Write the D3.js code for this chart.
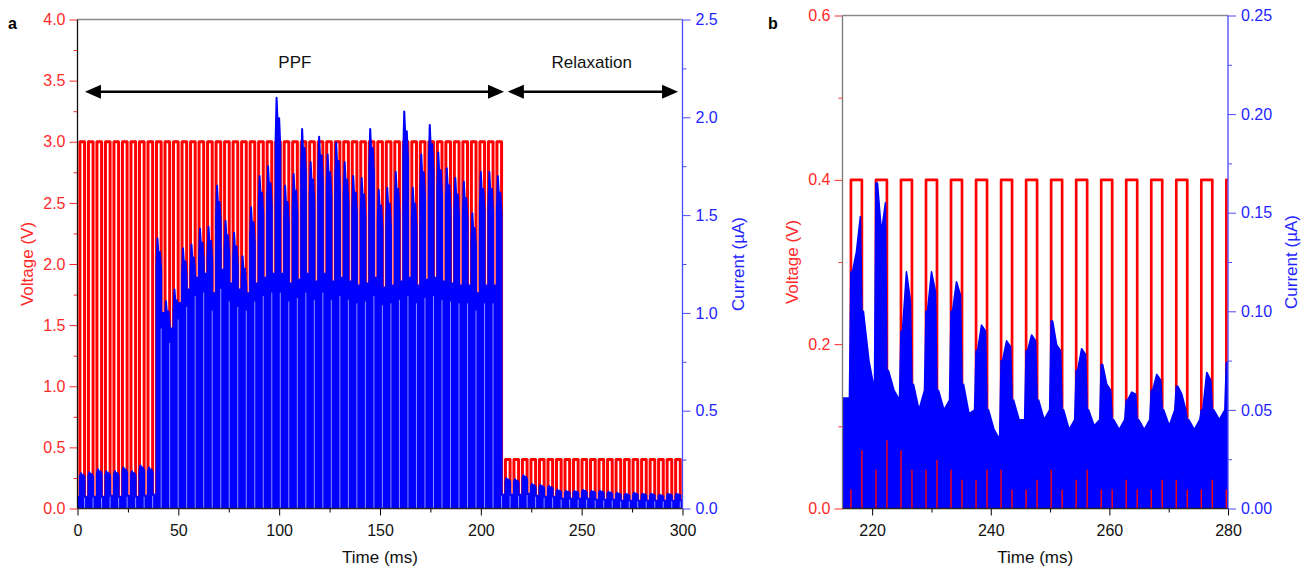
<!DOCTYPE html>
<html>
<head>
<meta charset="utf-8">
<title>PPF and relaxation</title>
<script src="https://cdn.jsdelivr.net/npm/d3@7"></script>
<style>
  body { margin: 0; background: #fff; }
  svg text { font-family: "Liberation Sans", Arial, sans-serif; }
</style>
</head>
<body>
<svg id="chart" width="1312" height="572"></svg>
<script>
// ---- pulse protocol (ms, V)
const pulseStart = 1.2;
const pulsePeriod = 4.22;
const pulseWidthA = 2.3;
const pulseWidthB = 1.85;
const ppfCount = 50;
const relaxCount = 21;
const ppfVoltage = 3.0;
const relaxVoltage = 0.4;

// ---- panel a: current per pulse (uA)
const peakA = [
  0.18, 0.185, 0.2, 0.19, 0.19, 0.21, 0.19, 0.22, 0.21,
  1.38, 1.06, 1.12, 1.33, 1.35, 1.43, 1.44, 1.65, 1.47, 1.41, 1.29,
  1.54, 1.70, 1.75, 2.10, 1.65, 1.71, 1.94, 1.77, 1.90, 1.81,
  1.87, 1.77, 1.70, 1.69, 1.94, 1.63, 1.64, 1.72, 2.03, 1.64,
  1.81, 1.96, 1.82, 1.74, 1.69, 1.67, 1.51, 1.72, 1.72, 1.70,
  0.155, 0.15, 0.17, 0.125, 0.12, 0.115, 0.095, 0.09, 0.09, 0.095,
  0.09, 0.09, 0.085, 0.08, 0.075, 0.08, 0.075, 0.075, 0.07, 0.075, 0.075
];
// level between pulses (after each pulse)
const offA = [
  0.06, 0.06, 0.06, 0.065, 0.06, 0.065, 0.06, 0.065, 0.07,
  1.0, 0.92, 1.05, 1.12, 1.18, 1.2, 1.1, 1.22, 1.15, 1.12, 1.1,
  1.15, 1.18, 1.2, 1.2, 1.15, 1.17, 1.2, 1.16, 1.2, 1.16,
  1.18, 1.16, 1.14, 1.15, 1.18, 1.13, 1.14, 1.16, 1.18, 1.14,
  1.17, 1.18, 1.16, 1.15, 1.14, 1.14, 1.1, 1.14, 1.14, 0.07,
  0.07, 0.07, 0.075, 0.065, 0.06, 0.06, 0.05, 0.05, 0.05, 0.05,
  0.045, 0.045, 0.045, 0.04, 0.04, 0.04, 0.04, 0.04, 0.04, 0.04, 0.04
];
const leadA = 0.06;
// shape of one pulse response: [fraction of pulse width, fraction of peak]
const shapeA = [[0, 0.9], [0.2, 1], [0.45, 0.93], [0.75, 0.95], [1, 0.88]];

// ---- panel b: relaxation detail, pulses 51..66 (uA)
const firstPulseB = 51;
const leadB = 0.056;
const onTopB = [
  [0.12, 0.13, 0.148], [0.165, 0.14, 0.155], [0.09, 0.12, 0.105], [0.10, 0.12, 0.11],
  [0.10, 0.115, 0.108], [0.08, 0.093, 0.09], [0.075, 0.085, 0.082], [0.08, 0.088, 0.085],
  [0.095, 0.083, 0.08], [0.07, 0.081, 0.078], [0.073, 0.063, 0.06], [0.055, 0.059, 0.058],
  [0.06, 0.068, 0.065], [0.062, 0.058, 0.05], [0.05, 0.069, 0.065], [0.074, 0.074, 0.074]
];
const offTopB = [
  [0.10, 0.075, 0.06], [0.07, 0.06, 0.055], [0.063, 0.05, 0.06], [0.06, 0.05, 0.055],
  [0.063, 0.048, 0.05], [0.05, 0.04, 0.035], [0.055, 0.045, 0.045], [0.055, 0.045, 0.05],
  [0.05, 0.04, 0.045], [0.05, 0.042, 0.045], [0.045, 0.04, 0.045], [0.045, 0.04, 0.045],
  [0.05, 0.042, 0.05], [0.045, 0.04, 0.045], [0.05, 0.045, 0.05], [0.074, 0.074, 0.074]
];
// white gaps at the bottom of the trace at each switching edge (uA)
const riseGapB = [0.01, 0.02, 0.03, 0.02, 0.02, 0.015, 0.02, 0.01, 0.02, 0.015, 0.01, 0.015, 0.01, 0.015, 0.01, 0.01];
const fallGapB = [0.03, 0.035, 0.02, 0.025, 0.015, 0.02, 0.01, 0.015, 0.01, 0.02, 0.01, 0.01, 0.015, 0.01, 0.015, 0.01];

// ---- tick values
const ticksVA = d3.range(0, 4.01, 0.5);
const ticksIA = d3.range(0, 2.51, 0.5);
const ticksTA = d3.range(0, 301, 50);
const ticksVB = [0, 0.2, 0.4, 0.6];
const ticksIB = [0, 0.05, 0.1, 0.15, 0.2, 0.25];
const ticksTB = [220, 240, 260, 280];

const RED = "#ff0000", BLUE = "#0000ff";
const AXRED = "#ff2a2a", AXBLUE = "#4a4aff", TXBLUE = "#2424ff";
const svg = d3.select("#chart");

const onset = k => pulseStart + k * pulsePeriod;
const level = k => k < ppfCount ? ppfVoltage : relaxVoltage;

function voltagePoints(t0, t1, width) {
  const pts = [[t0, 0]];
  for (let k = 0; k < ppfCount + relaxCount; k++) {
    const s = onset(k), e = s + width;
    if (e < t0 || s > t1 + 5) continue;
    pts.push([s, 0], [s, level(k)], [e, level(k)], [e, 0]);
  }
  pts.push([t1 + 5, 0]);
  return pts;
}

function axes(g, o) {
  const [x0, x1] = o.x.range(), [y0, y1] = o.yl.range();
  const font = s => s.style("font-size", "16px");
  // minor ticks
  g.append("g").attr("transform", `translate(0,${y0})`)
    .call(d3.axisBottom(o.x).tickValues(o.txMinor).tickSize(4).tickFormat(""))
    .call(s => { s.select(".domain").remove(); s.selectAll("line").attr("stroke", "#000"); });
  g.append("g").attr("transform", `translate(${x0},0)`)
    .call(d3.axisLeft(o.yl).tickValues(o.tylMinor).tickSize(4).tickFormat(""))
    .call(s => { s.select(".domain").remove(); s.selectAll("line").attr("stroke", AXRED); });
  g.append("g").attr("transform", `translate(${x1},0)`)
    .call(d3.axisRight(o.yr).tickValues(o.tyrMinor).tickSize(4).tickFormat(""))
    .call(s => { s.select(".domain").remove(); s.selectAll("line").attr("stroke", AXBLUE); });
  // major ticks
  g.append("g").attr("transform", `translate(0,${y0})`)
    .call(d3.axisBottom(o.x).tickValues(o.tx).tickSize(7).tickPadding(9).tickFormat(d3.format("d")))
    .call(s => {
      s.select(".domain").remove();
      s.selectAll("line").attr("stroke", "#000");
      font(s.selectAll("text").attr("fill", "#111"));
    });
  g.append("g").attr("transform", `translate(${x0},0)`)
    .call(d3.axisLeft(o.yl).tickValues(o.tyl).tickSize(8).tickPadding(4).tickFormat(d3.format(".1f")))
    .call(s => {
      s.select(".domain").remove();
      s.selectAll("line").attr("stroke", AXRED);
      font(s.selectAll("text").attr("fill", AXRED));
    });
  g.append("g").attr("transform", `translate(${x1},0)`)
    .call(d3.axisRight(o.yr).tickValues(o.tyr).tickSize(8).tickPadding(5).tickFormat(d3.format(o.rfmt)))
    .call(s => {
      s.select(".domain").remove();
      s.selectAll("line").attr("stroke", AXBLUE);
      font(s.selectAll("text").attr("fill", TXBLUE));
    });
  // frame
  g.append("line").attr("x1", x0).attr("x2", x1).attr("y1", y1).attr("y2", y1).attr("stroke", "#8a8a8a").attr("stroke-width", 1.3);
  g.append("line").attr("x1", x0).attr("x2", x0).attr("y1", y0).attr("y2", y1).attr("stroke", o.leftColor).attr("stroke-width", 1.3);
  g.append("line").attr("x1", x0).attr("x2", x1).attr("y1", y0).attr("y2", y0).attr("stroke", "#222").attr("stroke-width", 1.3);
  g.append("line").attr("x1", x1).attr("x2", x1).attr("y1", y0).attr("y2", y1).attr("stroke", AXBLUE).attr("stroke-width", 1.3);
  // titles
  const cy = (y0 + y1) / 2;
  g.append("text").attr("transform", `translate(${o.vlx},${cy}) rotate(-90)`).attr("text-anchor", "middle")
    .attr("dy", "0.35em").attr("fill", AXRED).style("font-size", "17px").text("Voltage (V)");
  g.append("text").attr("transform", `translate(${o.ilx},${cy}) rotate(-90)`).attr("text-anchor", "middle")
    .attr("dy", "0.35em").attr("fill", TXBLUE).style("font-size", "17px").text("Current (\u00b5A)");
  g.append("text").attr("x", (x0 + x1) / 2).attr("y", 563).attr("text-anchor", "middle")
    .attr("fill", "#111").style("font-size", "17px").text("Time (ms)");
  g.append("text").attr("x", o.tagx).attr("y", 29).attr("fill", "#000")
    .style("font-size", "16px").style("font-weight", "bold").text(o.tag);
}

// =============== panel a
const xA = d3.scaleLinear().domain([0, 300]).range([77.5, 682.5]);
const vA = d3.scaleLinear().domain([0, 4]).range([508.5, 19.5]);
const iA = d3.scaleLinear().domain([0, 2.5]).range([508.5, 19.5]);
const gA = svg.append("g");
svg.append("clipPath").attr("id", "clipA").append("rect")
  .attr("x", 77.5).attr("y", 19.5).attr("width", 605).attr("height", 489);

const plotA = gA.append("g").attr("clip-path", "url(#clipA)");
plotA.append("path")
  .datum(voltagePoints(0, 300, pulseWidthA))
  .attr("fill", "none").attr("stroke", RED).attr("stroke-width", 3).attr("stroke-linejoin", "round")
  .attr("d", d3.line().x(d => xA(d[0])).y(d => vA(d[1])));

const curA = [[0, leadA]];
peakA.forEach((p, k) => {
  const s = onset(k), prev = k ? offA[k - 1] : leadA;
  curA.push([s, prev]);
  shapeA.forEach(([f, m]) => curA.push([s + f * pulseWidthA, m * p]));
  curA.push([s + pulseWidthA, offA[k]]);
});
curA.push([300, offA[offA.length - 1]]);

plotA.append("path").datum(curA)
  .attr("fill", BLUE)
  .attr("d", d3.area().x(d => xA(d[0])).y0(iA(0)).y1(d => iA(d[1])));
plotA.append("path").datum(curA)
  .attr("fill", "none").attr("stroke", BLUE).attr("stroke-width", 2).attr("stroke-linejoin", "round")
  .attr("d", d3.line().x(d => xA(d[0])).y(d => iA(d[1])));
// transient dips at the falling edge of each pulse
plotA.append("g").selectAll("line").data(offA).join("line")
  .attr("x1", (d, k) => xA(onset(k) + pulseWidthA)).attr("x2", (d, k) => xA(onset(k) + pulseWidthA))
  .attr("y1", iA(0)).attr("y2", d => iA(d * 0.92))
  .attr("stroke", "#fff").attr("stroke-opacity", 0.55).attr("stroke-width", 1);

axes(gA, {
  x: xA, yl: vA, yr: iA,
  tx: ticksTA, txMinor: d3.range(25, 300, 50),
  tyl: ticksVA, tylMinor: d3.range(0.25, 4, 0.5),
  tyr: ticksIA, tyrMinor: d3.range(0.25, 2.5, 0.5),
  rfmt: ".1f", leftColor: "#111", vlx: 27, ilx: 738, tag: "a", tagx: 8
});

// annotations
const arrowY = vA(3.41);
function arrow(t0, t1) {
  const a = xA(t0), b = xA(t1);
  gA.append("line").attr("x1", a + 6).attr("x2", b - 6).attr("y1", arrowY).attr("y2", arrowY)
    .attr("stroke", "#000").attr("stroke-width", 2.5);
  gA.append("path").attr("fill", "#000")
    .attr("d", `M${a},${arrowY}L${a + 16},${arrowY - 7}L${a + 16},${arrowY + 7}Z`);
  gA.append("path").attr("fill", "#000")
    .attr("d", `M${b},${arrowY}L${b - 16},${arrowY - 7}L${b - 16},${arrowY + 7}Z`);
}
arrow(3.7, 211.5);
arrow(213.4, 297.8);
gA.append("text").attr("x", xA(107.8)).attr("y", vA(3.65)).attr("dy", "0.35em").attr("text-anchor", "middle")
  .style("font-size", "17px").attr("fill", "#111").text("PPF");
gA.append("text").attr("x", xA(255)).attr("y", vA(3.65)).attr("dy", "0.35em").attr("text-anchor", "middle")
  .style("font-size", "17px").attr("fill", "#111").text("Relaxation");

// =============== panel b
const xB = d3.scaleLinear().domain([215, 280]).range([842.5, 1228]);
const vB = d3.scaleLinear().domain([0, 0.6]).range([508.5, 15.5]);
const iB = d3.scaleLinear().domain([0, 0.25]).range([508.5, 15.5]);
const gB = svg.append("g");
svg.append("clipPath").attr("id", "clipB").append("rect")
  .attr("x", 842.5).attr("y", 15.5).attr("width", 385.5).attr("height", 493);
const plotB = gB.append("g").attr("clip-path", "url(#clipB)");

plotB.append("path")
  .datum(voltagePoints(215, 280, pulseWidthB))
  .attr("fill", "none").attr("stroke", RED).attr("stroke-width", 2.7).attr("stroke-linejoin", "round")
  .attr("d", d3.line().x(d => xB(d[0])).y(d => vB(d[1])));

const curB = [{ t: 215, lo: 0, hi: leadB }];
onTopB.forEach((on, j) => {
  const s = onset(firstPulseB + j), e = s + pulseWidthB, n = s + pulsePeriod;
  const off = offTopB[j], w = pulseWidthB, g = 0.25;
  const prevHi = j ? offTopB[j - 1][2] : leadB;
  curB.push({ t: s - g, lo: 0, hi: prevHi });
  curB.push({ t: s - g, lo: riseGapB[j], hi: prevHi });
  curB.push({ t: s, lo: riseGapB[j], hi: on[0] });
  curB.push({ t: s + g, lo: riseGapB[j], hi: on[0] });
  curB.push({ t: s + g, lo: 0, hi: on[0] });
  curB.push({ t: s + w / 2, lo: 0, hi: on[1] });
  curB.push({ t: e - g, lo: 0, hi: on[2] });
  curB.push({ t: e - g, lo: fallGapB[j], hi: on[2] });
  curB.push({ t: e, lo: fallGapB[j], hi: off[0] });
  curB.push({ t: e + g, lo: fallGapB[j], hi: off[0] });
  curB.push({ t: e + g, lo: 0, hi: off[0] });
  curB.push({ t: (e + n) / 2, lo: 0, hi: off[1] });
  curB.push({ t: n - g, lo: 0, hi: off[2] });
});
plotB.append("path").datum(curB)
  .attr("fill", BLUE).attr("stroke", BLUE).attr("stroke-width", 1.6).attr("stroke-linejoin", "round")
  .attr("d", d3.area().x(d => xB(d.t)).y0(d => iB(d.lo)).y1(d => iB(d.hi)));

axes(gB, {
  x: xB, yl: vB, yr: iB,
  tx: ticksTB, txMinor: [230, 250, 270],
  tyl: ticksVB, tylMinor: [0.1, 0.3, 0.5],
  tyr: ticksIB, tyrMinor: d3.range(0.025, 0.25, 0.05),
  rfmt: ".2f", leftColor: "#777", vlx: 792, ilx: 1291, tag: "b", tagx: 768
});
</script>
</body>
</html>
